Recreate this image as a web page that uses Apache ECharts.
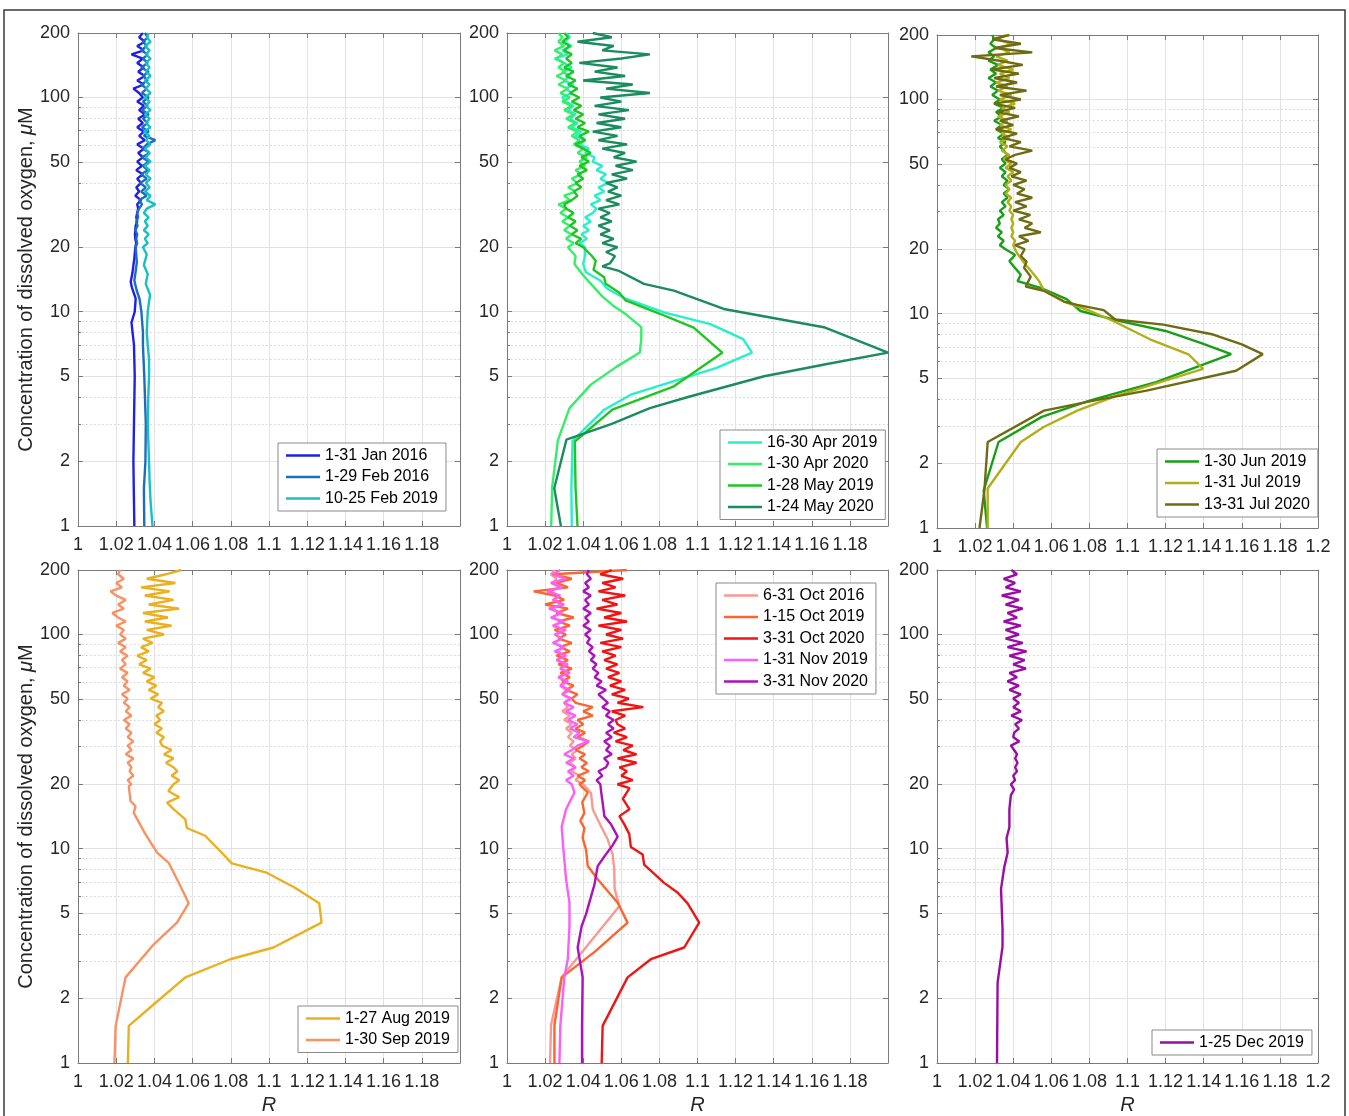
<!DOCTYPE html>
<html><head><meta charset="utf-8">
<script src="https://cdn.jsdelivr.net/npm/echarts@6/dist/echarts.min.js"></script>
<style>html,body{margin:0;padding:0;background:#fff}#c{width:1349px;height:1116px}</style>
</head><body><div id="c"></div>
<script>
// ---------- axis ticks ----------
const Y_MAJOR = [1, 2, 5, 10, 20, 50, 100, 200];
const Y_MINOR = [3, 4, 6, 7, 8, 9, 30, 40, 60, 70, 80, 90];
const X_MIN = 1, X_MAX = 1.2, X_STEP = 0.02;

// O2 levels (µM) at which the noisy upper parts of the profiles were read
const O2_LEVELS = [20,20.9,21.9,23,24, 25.2,26.4,27.6,28.9,30.3, 31.7,33.2,34.8,36.4,38.1, 39.9,41.8,43.8,45.8,48,
  50.2,52.6,55.1,57.7,60.4, 63.2,66.2,69.3,72.6,76, 79.6,83.4,87.3,91.4,95.7, 100,105,110,115,120,
  126,132,138,145,152, 159,166,174,182,191, 200];

// ---------- data: [R, O2] pairs below 20 µM, and R at O2_LEVELS above ----------
// Panel 1
const JAN2016_LOW = [[1.0295,1],[1.0292,1.5],[1.029,2],[1.0293,3],[1.0297,5],[1.0293,7],[1.028,8.9],[1.0297,10],[1.0302,11.5],[1.0282,13],[1.0276,13.8],[1.0285,15.2],[1.0295,17.8]];
const JAN2016_UP = [1.030,1.0305,1.030,1.0298,1.030, 1.0302,1.031,1.0305,1.031,1.0315, 1.031,1.033,1.030,1.032,1.0305, 1.033,1.031,1.034,1.0305,1.0335,
  1.031,1.034,1.0315,1.0345,1.031, 1.035,1.032,1.0345,1.031,1.034, 1.0315,1.035,1.032,1.0345,1.031, 1.034,1.032,1.029,1.0345,1.031,
  1.035,1.0315,1.0345,1.031,1.034, 1.028,1.0345,1.031,1.035,1.032, 1.034];
const FEB2016_LOW = [[1.0347,1],[1.0345,1.5],[1.0353,2],[1.0355,3],[1.0347,5],[1.034,7],[1.034,8],[1.0332,10],[1.0322,11.5],[1.0307,12.6],[1.0295,14],[1.030,15],[1.0308,17],[1.0305,18.5]];
const FEB2016_UP = [1.0302,1.031,1.0305,1.031,1.030, 1.0312,1.0305,1.0315,1.031,1.032, 1.0335,1.032,1.036,1.033,1.0355, 1.0325,1.036,1.033,1.0365,1.034,
  1.037,1.0335,1.0375,1.034,1.036, 1.0405,1.0345,1.037,1.0335,1.0365, 1.034,1.037,1.0335,1.0365,1.034, 1.037,1.0335,1.036,1.033,1.0365,
  1.034,1.037,1.033,1.0365,1.034, 1.0365,1.033,1.036,1.034,1.0365, 1.035];
const FEB2019_LOW = [[1.039,1],[1.038,1.3],[1.0375,1.6],[1.0372,2],[1.0365,3],[1.0368,4],[1.0372,5],[1.0372,6],[1.0365,7],[1.036,8],[1.0365,10],[1.0377,12],[1.0355,13.5],[1.0365,15],[1.0345,16.5],[1.036,18.5]];
const FEB2019_UP = [1.034,1.0365,1.035,1.037,1.0345, 1.0365,1.035,1.037,1.0345,1.036, 1.0405,1.036,1.038,1.035,1.0375, 1.0355,1.038,1.0355,1.0375,1.035,
  1.038,1.0355,1.0375,1.035,1.038, 1.0355,1.0375,1.0345,1.038,1.0355, 1.0375,1.035,1.038,1.0355,1.0375, 1.035,1.038,1.0355,1.0375,1.035,
  1.038,1.0355,1.0375,1.0355,1.038, 1.0355,1.0375,1.035,1.038,1.036, 1.037];
// Panel 2
const APR2019_LOW = [[1.034,1],[1.0338,1.5],[1.0344,2.5],[1.051,3.49],[1.065,4.1],[1.0876,4.74],[1.110,5.47],[1.1286,6.44],[1.124,7.45],[1.1068,8.75],[1.0824,9.93],[1.0623,11.5],[1.0527,12.8],[1.049,14],[1.0414,15.3],[1.040,16.7],[1.041,18.3]];
const APR2019_UP = [1.041,1.038,1.042,1.039,1.043, 1.040,1.044,1.041,1.045,1.047, 1.044,1.049,1.046,1.051,1.048, 1.053,1.049,1.052,1.047,1.050,
  1.045,1.046,1.041,1.043,1.038, 1.041,1.036,1.039,1.034,1.037, 1.033,1.036,1.032,1.035,1.031, 1.029,1.034,1.031,1.035,1.030,
  1.033,1.029,1.034,1.030,1.025, 1.032,1.029,1.034,1.030,1.033, 1.031];
const APR2020_LOW = [[1.0232,1],[1.0237,1.52],[1.0267,2.51],[1.0328,3.55],[1.044,4.57],[1.0574,5.53],[1.0697,6.45],[1.0705,7.5],[1.0705,8.47],[1.0626,9.7],[1.0556,10.7],[1.050,11.8],[1.045,13.2],[1.040,14.8],[1.0354,16.7],[1.036,18.2]];
const APR2020_UP = [1.032,1.035,1.031,1.034,1.030, 1.033,1.029,1.032,1.028,1.031, 1.027,1.033,1.030,1.036,1.032, 1.037,1.034,1.039,1.036,1.041,
  1.038,1.042,1.037,1.040,1.035, 1.038,1.034,1.037,1.032,1.036, 1.031,1.035,1.030,1.034,1.029, 1.033,1.028,1.032,1.027,1.031,
  1.026,1.031,1.027,1.030,1.026, 1.029,1.025,1.030,1.027,1.029, 1.027];
const MAY2019_LOW = [[1.037,1],[1.036,1.5],[1.0356,2.48],[1.0553,3.49],[1.0876,4.49],[1.113,6.44],[1.098,8.44],[1.0806,9.76],[1.0623,11.3],[1.0588,12.3],[1.0518,13.5],[1.051,14.5],[1.0454,15.7],[1.0466,17.3],[1.0443,18.3]];
const MAY2019_UP = [1.040,1.036,1.039,1.034,1.037, 1.033,1.036,1.032,1.035,1.031, 1.030,1.034,1.037,1.035,1.039, 1.036,1.040,1.037,1.042,1.038,
  1.043,1.039,1.044,1.040,1.036, 1.041,1.038,1.043,1.037,1.041, 1.036,1.040,1.035,1.039,1.034, 1.038,1.033,1.037,1.032,1.036,
  1.031,1.035,1.030,1.034,1.031, 1.034,1.030,1.033,1.029,1.032, 1.030];
const MAY2020_LOW = [[1.0283,1],[1.0248,1.5],[1.0312,2.53],[1.055,3.0],[1.075,3.55],[1.095,4.0],[1.135,5.0],[1.168,5.7],[1.2,6.44],[1.167,8.44],[1.1138,10.3],[1.0876,12.55],[1.0719,13.5],[1.0588,15.5],[1.050,16.3],[1.054,16.8],[1.0567,18.2],[1.052,19]];
const MAY2020_UP = [1.058,1.050,1.056,1.049,1.054, 1.048,1.055,1.049,1.054,1.048, 1.059,1.052,1.060,1.053,1.058, 1.052,1.063,1.055,1.066,1.057,
  1.068,1.056,1.062,1.050,1.063, 1.048,1.058,1.045,1.060,1.047, 1.062,1.048,1.064,1.046,1.060, 1.049,1.075,1.052,1.066,1.040,
  1.062,1.046,1.058,1.038,1.060, 1.075,1.050,1.056,1.037,1.055, 1.045];
// Panel 3
const JUN2019_LOW = [[1.0263,1],[1.0245,1.5],[1.0323,2.52],[1.055,3.3],[1.080,3.93],[1.115,4.8],[1.1544,6.48],[1.138,7.33],[1.120,8.31],[1.096,9.24],[1.0753,10.3],[1.068,11.7],[1.0544,13.2],[1.0423,14.2],[1.044,15.2],[1.038,17.6],[1.041,18.8]];
const JUN2019_UP = [1.036,1.033,1.035,1.032,1.034, 1.031,1.033,1.032,1.035,1.033, 1.036,1.034,1.037,1.035,1.038, 1.035,1.037,1.034,1.036,1.033,
  1.036,1.034,1.037,1.035,1.033, 1.036,1.032,1.035,1.031,1.034, 1.030,1.034,1.031,1.035,1.030, 1.033,1.029,1.032,1.028,1.031,
  1.027,1.031,1.028,1.032,1.027, 1.030,1.027,1.031,1.028,1.030, 1.029];
const JUL2019_LOW = [[1.0266,1],[1.0266,1.53],[1.044,2.52],[1.056,2.96],[1.0736,3.53],[1.0944,4.15],[1.1397,5.53],[1.132,6.47],[1.1118,7.6],[1.093,9.2],[1.0805,10.3],[1.0666,11.4],[1.056,12.9],[1.0536,14.2],[1.051,15.2],[1.0457,17.3],[1.042,19.2]];
const JUL2019_UP = [1.041,1.040,1.041,1.039,1.040, 1.039,1.040,1.039,1.040,1.038, 1.039,1.037,1.039,1.036,1.038, 1.036,1.039,1.037,1.040,1.036,
  1.039,1.035,1.038,1.034,1.037, 1.033,1.038,1.034,1.039,1.033, 1.037,1.032,1.038,1.034,1.041, 1.033,1.039,1.032,1.037,1.031,
  1.038,1.033,1.040,1.032,1.037, 1.031,1.038,1.033,1.039,1.032, 1.036];
const JUL2020_LOW = [[1.0223,1],[1.0249,1.5],[1.0266,2.52],[1.0562,3.53],[1.0823,3.93],[1.110,4.38],[1.157,5.42],[1.171,6.48],[1.160,7.2],[1.145,8.0],[1.1188,8.9],[1.0936,9.4],[1.0875,10.4],[1.0736,11.0],[1.0666,11.4],[1.056,12.8],[1.0466,13.4],[1.0492,14.9],[1.0457,16.4],[1.047,17.5],[1.044,18.6]];
const JUL2020_UP = [1.046,1.041,1.048,1.043,1.0545, 1.046,1.050,1.043,1.049,1.040, 1.047,1.041,1.050,1.042,1.046, 1.040,1.047,1.039,1.044,1.038,
  1.042,1.036,1.041,1.050,1.038, 1.044,1.034,1.042,1.031,1.040, 1.033,1.043,1.032,1.041,1.030, 1.044,1.033,1.047,1.031,1.042,
  1.030,1.043,1.029,1.045,1.032, 1.018,1.050,1.030,1.044,1.029, 1.038];
// Panel 4
const AUG2019_LOW = [[1.0261,1],[1.0266,1.49],[1.0397,1.88],[1.0562,2.51],[1.0797,3.05],[1.1023,3.46],[1.1275,4.52],[1.1263,5.56],[1.1136,6.58],[1.0988,7.73],[1.0805,8.55],[1.0753,9.58],[1.0666,11.5],[1.057,12.5],[1.0562,13.7],[1.050,15.3],[1.0466,16.4],[1.053,17.4],[1.0473,18.6]];
const AUG2019_UP = [1.050,1.053,1.049,1.052,1.050, 1.046,1.050,1.045,1.049,1.044, 1.043,1.045,1.041,1.044,1.040, 1.043,1.041,1.045,1.042,1.044,
  1.038,1.042,1.037,1.041,1.036, 1.040,1.034,1.038,1.032,1.036, 1.031,1.037,1.033,1.039,1.034, 1.045,1.036,1.049,1.035,1.047,
  1.034,1.053,1.037,1.050,1.035, 1.048,1.033,1.051,1.036,1.046, 1.054];
const SEP2019_LOW = [[1.0191,1],[1.0197,1.49],[1.0249,2.51],[1.0397,3.58],[1.0518,4.52],[1.0579,5.56],[1.0553,6.25],[1.0475,8.6],[1.0414,9.6],[1.0353,11.7],[1.0292,14.7],[1.0301,15.8],[1.0275,16.7],[1.0266,19.6]];
const SEP2019_UP = [1.028,1.026,1.029,1.027,1.028, 1.026,1.029,1.025,1.028,1.026, 1.029,1.026,1.028,1.025,1.027, 1.024,1.028,1.025,1.027,1.024,
  1.026,1.023,1.027,1.024,1.026, 1.023,1.026,1.022,1.025,1.023, 1.026,1.022,1.025,1.021,1.025, 1.022,1.024,1.020,1.025,1.021,
  1.018,1.024,1.021,1.025,1.020, 1.017,1.023,1.020,1.024,1.021, 1.022];
// Panel 5
const OCT2016_LOW = [[1.0226,1],[1.0231,1.5],[1.0287,2.51],[1.059,5.41],[1.0565,6.5],[1.0563,8.0],[1.0555,9.4],[1.0528,11.1],[1.0494,12.7],[1.045,15.3],[1.0441,18.2]];
const OCT2016_UP = [1.040,1.036,1.038,1.034,1.036, 1.033,1.036,1.034,1.037,1.033, 1.035,1.032,1.034,1.031,1.034, 1.030,1.033,1.029,1.032,1.030,
  1.033,1.029,1.031,1.028,1.030, 1.027,1.031,1.028,1.030,1.026, 1.030,1.027,1.029,1.025,1.028, 1.026,1.029,1.025,1.028,1.024,
  1.027,1.024,1.028,1.025,1.027, 1.023,1.027,1.024,1.026,1.023, 1.025];
const OCT2019_LOW = [[1.0249,1],[1.0249,1.5],[1.0287,2.51],[1.046,3.3],[1.0633,4.52],[1.0581,5.6],[1.0476,7.2],[1.0424,8.3],[1.0415,9.9],[1.0397,11.2],[1.0406,12.5],[1.0385,13.5],[1.0406,14.7],[1.0395,16.5],[1.0424,18.3]];
const OCT2019_UP = [1.038,1.041,1.037,1.043,1.039, 1.042,1.038,1.041,1.036,1.040, 1.043,1.037,1.041,1.036,1.040, 1.037,1.045,1.040,1.045,1.036,
  1.034,1.037,1.031,1.035,1.029, 1.033,1.028,1.034,1.027,1.032, 1.026,1.033,1.028,1.034,1.027, 1.031,1.025,1.033,1.027,1.035,
  1.026,1.032,1.020,1.030,1.025, 1.014,1.032,1.026,1.034,1.024, 1.063];
const OCT2020_LOW = [[1.0497,1],[1.0502,1.49],[1.0633,2.51],[1.0755,3.05],[1.093,3.46],[1.1009,4.52],[1.0948,5.56],[1.0895,6.25],[1.0825,6.93],[1.072,8.44],[1.0712,9.4],[1.065,10.2],[1.0642,11.7],[1.0616,13],[1.059,14.2],[1.0643,15.3],[1.0608,17.1],[1.0643,19.2]];
const OCT2020_UP = [1.058,1.066,1.060,1.063,1.059, 1.068,1.058,1.068,1.061,1.066, 1.057,1.063,1.056,1.062,1.058, 1.057,1.062,1.055,1.0715,1.058,
  1.064,1.055,1.062,1.054,1.060, 1.053,1.059,1.052,1.058,1.051, 1.057,1.050,1.060,1.049,1.061, 1.052,1.060,1.048,1.063,1.051,
  1.060,1.047,1.058,1.050,1.062, 1.048,1.057,1.050,1.061,1.049, 1.055];
const NOV2019_LOW = [[1.0275,1],[1.028,1.5],[1.0301,2.51],[1.0319,3.05],[1.0328,4.36],[1.0328,5.6],[1.031,7.2],[1.0301,8.9],[1.0293,10.7],[1.0287,12.7],[1.031,15.3],[1.0354,18.3]];
const NOV2019_UP = [1.034,1.031,1.035,1.032,1.036, 1.031,1.035,1.030,1.034,1.037, 1.0427,1.035,1.038,1.033,1.037, 1.032,1.036,1.031,1.035,1.030,
  1.034,1.029,1.033,1.028,1.032, 1.027,1.033,1.028,1.032,1.026, 1.031,1.025,1.030,1.024,1.029, 1.025,1.031,1.024,1.030,1.023,
  1.029,1.022,1.030,1.024,1.028, 1.021,1.029,1.023,1.031,1.024, 1.028];
const NOV2020_LOW = [[1.0394,1],[1.0394,1.5],[1.0397,2.51],[1.0371,3.46],[1.0392,4.36],[1.0415,4.95],[1.0432,5.6],[1.0459,6.8],[1.0476,8.3],[1.0511,9.2],[1.0555,10.4],[1.0581,11.4],[1.0546,13],[1.0511,14.2],[1.0502,16.4],[1.0494,18.5]];
const NOV2020_UP = [1.049,1.047,1.050,1.048,1.052, 1.0532,1.051,1.055,1.052,1.054, 1.051,1.055,1.052,1.056,1.053, 1.056,1.052,1.054,1.050,1.053,
  1.0505,1.048,1.052,1.047,1.0497, 1.046,1.048,1.045,1.047,1.044, 1.046,1.043,1.045,1.042,1.0435, 1.041,1.044,1.040,1.043,1.041,
  1.044,1.040,1.043,1.041,1.044, 1.040,1.043,1.041,1.044,1.042, 1.043];
// Panel 6
const DEC2019_LOW = [[1.0315,1],[1.0318,2.37],[1.0344,3.49],[1.0344,4.24],[1.0336,6.48],[1.0353,8.2],[1.0371,9.6],[1.0365,11.2],[1.038,12.6],[1.038,15.3],[1.0388,17.8],[1.0405,18.9]];
const DEC2019_UP = [1.0388,1.041,1.040,1.042,1.041, 1.0423,1.041,1.042,1.0405,1.0388, 1.0432,1.040,1.0405,1.043,1.041, 1.0446,1.039,1.044,1.040,1.043,
  1.040,1.044,1.038,1.043,1.037, 1.042,1.038,1.0467,1.040,1.046, 1.038,1.047,1.037,1.045,1.036, 1.043,1.036,1.044,1.035,1.042,
  1.037,1.045,1.036,1.043,1.034, 1.044,1.036,1.041,1.035,1.042, 1.039];

// ---------- series list ----------
const SERIES_DEF = [
  {name:'1-31 Jan 2016', panel:0, color:'#1f1fe8', low:JAN2016_LOW, up:JAN2016_UP},
  {name:'1-29 Feb 2016', panel:0, color:'#1c6dc2', low:FEB2016_LOW, up:FEB2016_UP},
  {name:'10-25 Feb 2019', panel:0, color:'#17bfc6', low:FEB2019_LOW, up:FEB2019_UP},
  {name:'16-30 Apr 2019', panel:1, color:'#27efc9', low:APR2019_LOW, up:APR2019_UP},
  {name:'1-30 Apr 2020', panel:1, color:'#35ef6a', low:APR2020_LOW, up:APR2020_UP},
  {name:'1-28 May 2019', panel:1, color:'#1fc622', low:MAY2019_LOW, up:MAY2019_UP},
  {name:'1-24 May 2020', panel:1, color:'#1a8c5f', low:MAY2020_LOW, up:MAY2020_UP},
  {name:'1-30 Jun 2019', panel:2, color:'#15a015', low:JUN2019_LOW, up:JUN2019_UP},
  {name:'1-31 Jul 2019', panel:2, color:'#b3ae18', low:JUL2019_LOW, up:JUL2019_UP},
  {name:'13-31 Jul 2020', panel:2, color:'#6e6b12', low:JUL2020_LOW, up:JUL2020_UP},
  {name:'1-27 Aug 2019', panel:3, color:'#ebb01f', low:AUG2019_LOW, up:AUG2019_UP},
  {name:'1-30 Sep 2019', panel:3, color:'#fa9162', low:SEP2019_LOW, up:SEP2019_UP},
  {name:'6-31 Oct 2016', panel:4, color:'#f89a93', low:OCT2016_LOW, up:OCT2016_UP},
  {name:'1-15 Oct 2019', panel:4, color:'#fb6630', low:OCT2019_LOW, up:OCT2019_UP},
  {name:'3-31 Oct 2020', panel:4, color:'#f01515', low:OCT2020_LOW, up:OCT2020_UP},
  {name:'1-31 Nov 2019', panel:4, color:'#fb5ffb', low:NOV2019_LOW, up:NOV2019_UP},
  {name:'3-31 Nov 2020', panel:4, color:'#ab12bd', low:NOV2020_LOW, up:NOV2020_UP},
  {name:'1-25 Dec 2019', panel:5, color:'#9b0ca4', low:DEC2019_LOW, up:DEC2019_UP}
];

// ---------- layout ----------
const PANELS = [
  {left:78,  top:33,  width:382, height:493, row:0, col:0, legend:{left:278, top:443}},
  {left:507, top:33,  width:381, height:493, row:0, col:1, legend:{left:720, top:430}},
  {left:937, top:35,  width:381, height:493, row:0, col:2, legend:{left:1157, top:449}},
  {left:78,  top:570, width:382, height:495, row:1, col:0, legend:{left:298, top:1006}},
  {left:507, top:570, width:381, height:495, row:1, col:1, legend:{left:716, top:583}},
  {left:937, top:570, width:381, height:495, row:1, col:2, legend:{left:1152, top:1030}}
];

const FONT = '"Liberation Sans", Arial, Helvetica, sans-serif';
const AX = '#7a7a7a';
const TXT = '#262626';
const GRID_MAJOR = '#e2e2e2';
const GRID_MINOR = '#d2d2d2';

const grid = [], xAxis = [], yAxis = [], legend = [], series = [];
PANELS.forEach((p, i) => {
  grid.push({left:p.left, top:p.top, width:p.width, height:p.height, containLabel:false});
  xAxis.push({
    gridIndex:i, type:'value', min:X_MIN, max:X_MAX, interval:X_STEP, position:'bottom',
    axisLine:{show:true, onZero:false, lineStyle:{color:AX, width:1}},
    axisTick:{show:true, inside:true, length:5, lineStyle:{color:AX}},
    axisLabel:{show:true, color:TXT, fontSize:18, fontFamily:FONT, margin:10, showMinLabel:true, showMaxLabel:p.col===2, hideOverlap:false},
    splitLine:{show:true, lineStyle:{color:GRID_MAJOR, width:1}},
    name: p.row===1 ? 'R' : '', nameLocation:'middle', nameGap:32,
    nameTextStyle:{fontStyle:'italic', fontSize:20, color:TXT, fontFamily:FONT}
  });
  xAxis.push({
    gridIndex:i, type:'value', min:X_MIN, max:X_MAX, interval:X_STEP, position:'top',
    axisLine:{show:true, onZero:false, lineStyle:{color:AX, width:1}},
    axisTick:{show:true, inside:true, length:5, lineStyle:{color:AX}},
    axisLabel:{show:false}, splitLine:{show:false}
  });
  yAxis.push({
    gridIndex:i, type:'log', logBase:10, min:1, max:200, position:'left',
    axisLine:{show:true, onZero:false, lineStyle:{color:AX, width:1}},
    axisTick:{show:true, inside:true, length:5, lineStyle:{color:AX}, customValues:Y_MAJOR},
    axisLabel:{show:true, color:TXT, fontSize:18, fontFamily:FONT, margin:8, customValues:Y_MAJOR, formatter:v => String(Math.round(v))},
    splitLine:{show:true, lineStyle:{color:GRID_MAJOR, width:1}},
    name: p.col===0 ? '{n|Concentration of dissolved oxygen, }{m|μ}{n|M}' : '',
    nameLocation:'middle', nameGap:42,
    nameTextStyle:{fontSize:20, color:TXT, fontFamily:FONT,
      rich:{n:{fontSize:20, color:TXT, fontFamily:FONT}, m:{fontSize:20, color:TXT, fontFamily:FONT, fontStyle:'italic'}}}
  });
  yAxis.push({
    gridIndex:i, type:'log', logBase:10, min:1, max:200, position:'right',
    axisLine:{show:true, onZero:false, lineStyle:{color:AX, width:1}},
    axisTick:{show:true, inside:true, length:5, lineStyle:{color:AX}, customValues:Y_MAJOR},
    axisLabel:{show:false}, splitLine:{show:false}
  });
  yAxis.push({
    gridIndex:i, type:'log', logBase:10, min:1, max:200, position:'left',
    axisLine:{show:false},
    axisTick:{show:true, inside:true, length:3, lineStyle:{color:AX}, customValues:Y_MINOR},
    axisLabel:{show:false},
    splitLine:{show:true, lineStyle:{color:GRID_MINOR, width:1, type:[1.5,2.5]}}
  });
  const names = SERIES_DEF.filter(s => s.panel === i).map(s => s.name);
  legend.push({
    data:names, left:p.legend.left, top:p.legend.top, orient:'vertical',
    icon:'rect', itemWidth:34, itemHeight:2.5, itemGap:4.5, padding:[4,8,4,8],
    backgroundColor:'#fff', borderColor:'#8a8a8a', borderWidth:1, borderRadius:0,
    selectedMode:false,
    textStyle:{fontSize:16, color:'#000', fontFamily:FONT, lineHeight:17}
  });
});

SERIES_DEF.forEach(s => {
  const data = s.low.concat(s.up.map((r, k) => [r, O2_LEVELS[k]]));
  series.push({
    name:s.name, type:'line', xAxisIndex:2*s.panel, yAxisIndex:3*s.panel,
    data:data, symbol:'none', showSymbol:false, smooth:false,
    lineStyle:{color:s.color, width:2.4}, itemStyle:{color:s.color},
    clip:true, silent:true
  });
});

const chart = echarts.init(document.getElementById('c'), null, {renderer:'canvas'});
chart.setOption({
  animation:false,
  backgroundColor:'#fff',
  textStyle:{fontFamily:FONT},
  grid, xAxis, yAxis, legend, series,
  graphic:[{type:'rect', shape:{x:4, y:10, width:1341, height:1130}, style:{fill:null, stroke:'#3a3a3a', lineWidth:1.5}, silent:true, z:-1}]
});
</script>
</body></html>
